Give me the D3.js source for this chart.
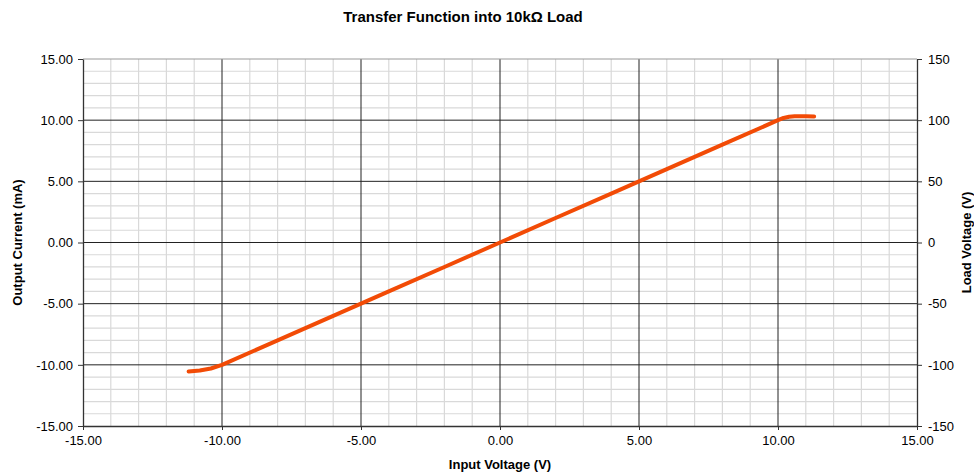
<!DOCTYPE html>
<html>
<head>
<meta charset="utf-8">
<script src="https://cdn.jsdelivr.net/npm/d3@7"></script>
<style>
  body { margin: 0; background: #fff; }
  text { font-family: "Liberation Sans", Arial, sans-serif; fill: #000; }
</style>
</head>
<body>
<div id="chart"></div>
<script>
// data
const inputVoltage = [-11.2, -10.8, -10.4, -10.0, -8.0, -6.0, -4.0, -2.0, 0.0, 2.0, 4.0, 6.0, 8.0, 10.0, 10.2, 10.4, 10.6, 11.0, 11.3];
const outputCurrent = [-10.55, -10.47, -10.3, -10.0, -8.0, -6.0, -4.0, -2.0, 0.0, 2.0, 4.0, 6.0, 8.0, 10.0, 10.18, 10.28, 10.32, 10.32, 10.3];
const xTicks = [-15, -10, -5, 0, 5, 10, 15];
const yTicks = [-15, -10, -5, 0, 5, 10, 15];
const yRightTicks = [-150, -100, -50, 0, 50, 100, 150];

const width = 974, height = 472;
const margin = { top: 59, right: 57, bottom: 46, left: 83 };

const svg = d3.select("#chart").append("svg")
    .attr("width", width)
    .attr("height", height);

const x = d3.scaleLinear().domain([-15, 15]).range([margin.left, width - margin.right]);
const y = d3.scaleLinear().domain([-15, 15]).range([height - margin.bottom, margin.top]);
const y2 = d3.scaleLinear().domain([-150, 150]).range([height - margin.bottom, margin.top]);

// minor grid
const minor = d3.range(-15, 16, 1).filter(d => d % 5 !== 0);
svg.append("g").selectAll("line").data(minor).enter().append("line")
    .attr("x1", d => x(d)).attr("x2", d => x(d))
    .attr("y1", margin.top).attr("y2", height - margin.bottom)
    .attr("stroke", "#d9d9d9").attr("stroke-width", 1.2);
svg.append("g").selectAll("line").data(minor).enter().append("line")
    .attr("y1", d => y(d)).attr("y2", d => y(d))
    .attr("x1", margin.left).attr("x2", width - margin.right)
    .attr("stroke", "#d9d9d9").attr("stroke-width", 1.2);

// major grid
const major = [-10, -5, 0, 5, 10];
svg.append("g").selectAll("line").data(major).enter().append("line")
    .attr("x1", d => x(d)).attr("x2", d => x(d))
    .attr("y1", margin.top).attr("y2", height - margin.bottom)
    .attr("stroke", "#222").attr("stroke-width", 1);
svg.append("g").selectAll("line").data(major).enter().append("line")
    .attr("y1", d => y(d)).attr("y2", d => y(d))
    .attr("x1", margin.left).attr("x2", width - margin.right)
    .attr("stroke", "#222").attr("stroke-width", 1);

// top frame
svg.append("line")
    .attr("x1", margin.left).attr("x2", width - margin.right)
    .attr("y1", margin.top).attr("y2", margin.top)
    .attr("stroke", "#999");

// axes (plain hyphen minus like the original)
const fmt = d => d.toFixed(2);
const fmtInt = d => String(d);
function styleAxis(g) {
    g.selectAll("path").attr("stroke", "#333").attr("stroke-width", 1.3);
    g.selectAll("line").attr("stroke", "#333");
    g.selectAll("text").attr("font-size", 13).attr("font-family", "Liberation Sans, Arial, sans-serif");
}

svg.append("g")
    .attr("transform", `translate(0,${height - margin.bottom})`)
    .call(d3.axisBottom(x).tickValues(xTicks).tickFormat(fmt).tickSizeInner(4).tickSizeOuter(0).tickPadding(6))
    .call(styleAxis);

svg.append("g")
    .attr("transform", `translate(${margin.left},0)`)
    .call(d3.axisLeft(y).tickValues(yTicks).tickFormat(fmt).tickSizeInner(5).tickSizeOuter(0).tickPadding(5))
    .call(styleAxis);

svg.append("g")
    .attr("transform", `translate(${width - margin.right},0)`)
    .call(d3.axisRight(y2).tickValues(yRightTicks).tickFormat(fmtInt).tickSizeInner(5).tickSizeOuter(0).tickPadding(6))
    .call(styleAxis);

// curve
const line = d3.line()
    .x((d, i) => x(inputVoltage[i]))
    .y(d => y(d))
    .curve(d3.curveLinear);

svg.append("path")
    .datum(outputCurrent)
    .attr("d", line)
    .attr("fill", "none")
    .attr("stroke", "#f24b06")
    .attr("stroke-width", 4)
    .attr("stroke-linejoin", "round")
    .attr("stroke-linecap", "round");

// titles
svg.append("text")
    .attr("x", 463).attr("y", 22)
    .attr("text-anchor", "middle")
    .attr("font-size", 15).attr("font-weight", "bold")
    .text("Transfer Function into 10kΩ Load");

svg.append("text")
    .attr("x", x(0)).attr("y", 469)
    .attr("text-anchor", "middle")
    .attr("font-size", 13).attr("font-weight", "bold")
    .text("Input Voltage (V)");

svg.append("text")
    .attr("transform", `translate(22,${y(0)}) rotate(-90)`)
    .attr("text-anchor", "middle")
    .attr("font-size", 13).attr("font-weight", "bold")
    .text("Output Current (mA)");

svg.append("text")
    .attr("transform", `translate(971,${y(0)}) rotate(-90)`)
    .attr("text-anchor", "middle")
    .attr("font-size", 13).attr("font-weight", "bold")
    .text("Load Voltage (V)");
</script>
</body>
</html>
